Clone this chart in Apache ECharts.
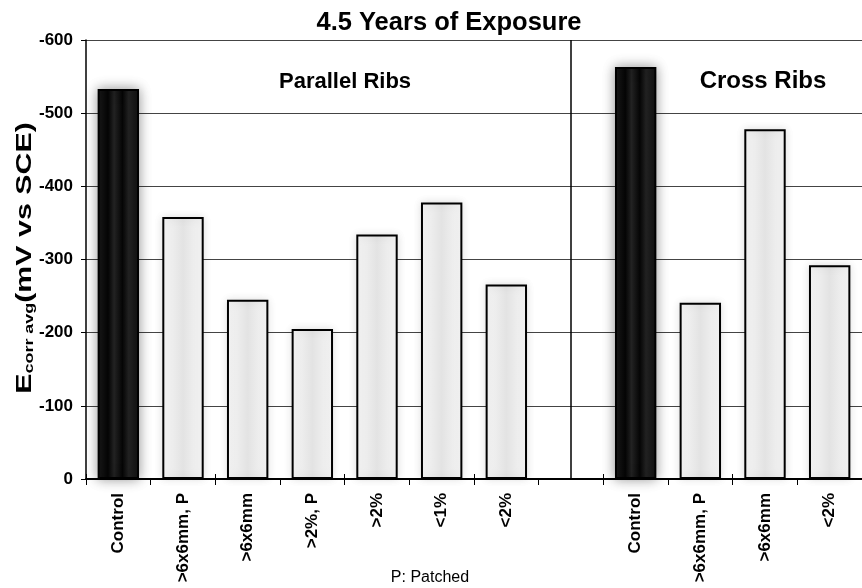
<!DOCTYPE html>
<html>
<head>
<meta charset="utf-8">
<script src="https://cdn.jsdelivr.net/npm/echarts@6/dist/echarts.min.js"></script>
<style>
html,body{margin:0;padding:0;background:#fff;}
#chart{width:862px;height:588px;}
</style>
</head>
<body>
<div id="chart"></div>
<script>
// Data
var categories = ['Control', '>6x6mm, P', '>6x6mm', '>2%, P', '>2%', '<1%', '<2%', '', 'Control', '>6x6mm, P', '>6x6mm', '<2%'];
var ecorrValues = [-533, -358, -245, -205, -334, -378, -266, null, -563, -241, -478, -292];
var yTicks = { min: -600, max: 0, interval: 100 };
var groupLabels = ['Parallel Ribs', 'Cross Ribs'];
var titleText = '4.5 Years of Exposure';
var noteText = 'P: Patched';
var yAxisTitle = '{e|E}{s|corr avg}{n|(mV vs SCE)}';
var dividerIndex = 7;

var FONT = 'Liberation Sans, Arial, sans-serif';

var lightFill = {
  type: 'linear', x: 0, y: 0, x2: 1, y2: 0,
  colorStops: [
    { offset: 0, color: '#f7f7f7' },
    { offset: 0.5, color: '#e3e3e3' },
    { offset: 1, color: '#f7f7f7' }
  ]
};
var darkFill = {
  type: 'linear', x: 0, y: 0, x2: 1, y2: 0,
  colorStops: [
    { offset: 0, color: '#1a1a1a' },
    { offset: 0.25, color: '#050505' },
    { offset: 0.4, color: '#222' },
    { offset: 0.6, color: '#050505' },
    { offset: 0.75, color: '#222' },
    { offset: 1, color: '#111' }
  ]
};

var barData = ecorrValues.map(function (v, i) {
  var isControl = categories[i] === 'Control';
  return {
    value: v,
    itemStyle: {
      color: isControl ? darkFill : lightFill,
      borderColor: '#000',
      borderWidth: 2,
      shadowBlur: isControl ? 12 : 8,
      shadowColor: isControl ? 'rgba(0,0,0,0.4)' : 'rgba(0,0,0,0.12)'
    }
  };
});

var chart = echarts.init(document.getElementById('chart'), null, { renderer: 'canvas' });

chart.setOption({
  animation: false,
  backgroundColor: '#fff',
  title: [
    { text: titleText, left: 444, top: 5, textAlign: 'center',
      textStyle: { fontFamily: FONT, fontWeight: 'bold', fontSize: 25.5, color: '#000' } },
    { text: groupLabels[0], left: 279, top: 71, padding: 0, textAlign: 'left',
      textStyle: { fontFamily: FONT, fontWeight: 'bold', fontSize: 22, color: '#000' } },
    { text: groupLabels[1], left: 758, top: 64, textAlign: 'center',
      textStyle: { fontFamily: FONT, fontWeight: 'bold', fontSize: 24, color: '#000' } },
    { text: noteText, left: 425, top: 565, textAlign: 'center',
      textStyle: { fontFamily: FONT, fontWeight: 'normal', fontSize: 16, color: '#000' } }
  ],
  graphic: [{
    type: 'text',
    x: 23,
    y: 258,
    rotation: Math.PI / 2,
    scaleX: 1.38,
    silent: true,
    style: {
      text: yAxisTitle,
      align: 'center',
      verticalAlign: 'middle',
      rich: {
        e: { fontFamily: FONT, fontWeight: 'bold', fontSize: 22, fill: '#000', lineHeight: 25, verticalAlign: 'bottom' },
        s: { fontFamily: FONT, fontWeight: 'bold', fontSize: 13, fill: '#000', lineHeight: 14, verticalAlign: 'bottom' },
        n: { fontFamily: FONT, fontWeight: 'bold', fontSize: 22, fill: '#000', lineHeight: 25, verticalAlign: 'bottom' }
      }
    }
  }],
  grid: { left: 86, top: 40, width: 784, bottom: 109, containLabel: false },
  xAxis: [
    {
      type: 'category',
      data: categories,
      position: 'bottom',
      axisLine: { show: true, lineStyle: { color: '#000', width: 2 } },
      axisTick: { show: true, alignWithLabel: false, length: 6, lineStyle: { color: '#000', width: 1 } },
      axisLabel: { rotate: 90, margin: 14, fontFamily: FONT, fontWeight: 'bold', fontSize: 17, color: '#000' },
      splitLine: { show: false }
    },
    {
      type: 'category',
      data: categories,
      position: 'bottom',
      axisLine: { show: false },
      axisTick: { show: true, inside: true, length: 5, lineStyle: { color: '#000', width: 1 } },
      axisLabel: { show: false },
      splitLine: { show: false }
    }
  ],
  yAxis: {
    type: 'value',
    min: yTicks.min,
    max: yTicks.max,
    interval: yTicks.interval,
    inverse: true,
    axisLine: { show: true, lineStyle: { color: '#000', width: 1.5 } },
    axisTick: { show: true, length: 5, lineStyle: { color: '#000' } },
    axisLabel: { margin: 13, fontFamily: FONT, fontWeight: 'bold', fontSize: 17, color: '#000' },
    splitLine: { show: true, lineStyle: { color: '#444', width: 1 } }
  },
  series: [{
    type: 'bar',
    xAxisIndex: 0,
    data: barData,
    barWidth: '64%',
    markLine: {
      silent: true,
      symbol: 'none',
      label: { show: false },
      lineStyle: { color: '#000', width: 1.5, type: 'solid' },
      data: [{ xAxis: dividerIndex }]
    }
  }]
});
</script>
</body>
</html>
